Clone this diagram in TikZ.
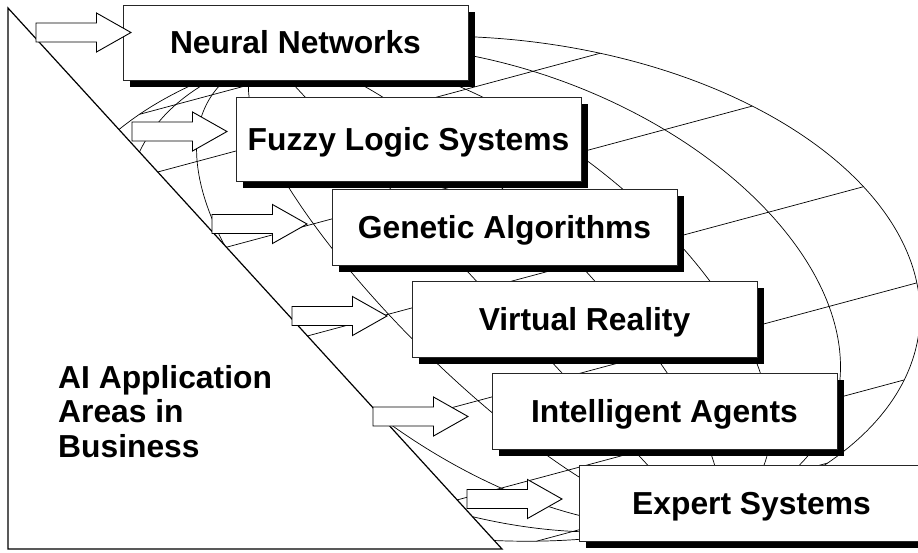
\documentclass[tikz,border=0pt]{standalone}
\usepackage{fontspec}
\setmainfont{Liberation Sans}
\usetikzlibrary{shadows}
\begin{document}
\begin{tikzpicture}[x=1pt,y=-1pt,
  globe/.style={line width=0.7pt, black},
  card/.style={draw=black!85, line width=1pt, fill=white, minimum width=345pt,
    minimum height=76pt, inner sep=0pt, text height=22.8pt, text depth=0pt,
    font=\fontsize{31.8}{36}\selectfont\bfseries,
    drop shadow={shadow xshift=6.5pt, shadow yshift=-7pt, fill=black, opacity=1}},
  lbl/.style={anchor=base west, inner sep=0pt, font=\fontsize{31.8}{36}\selectfont\bfseries},
  barrowline/.style={draw=black, line width=0.9pt, fill=white, line join=miter},
  barrow/.pic={\path[barrowline] (0,-9.5) -- (60.5,-9.5) -- (60.5,-19.5) -- (95,0)
     -- (60.5,19.5) -- (60.5,9.5) -- (0,9.5) -- cycle;}
]
\useasboundingbox (0,0) rectangle (918,552);
\clip (0,0) rectangle (918,552);
\fill[white] (0,0) rectangle (918,552);
% globe wireframe
\foreach \b in {-1,-0.75,-0.5,-0.25,0,0.25,0.5,0.75,1}
  \draw[globe] plot[domain=-90:90,samples=91,smooth]
    ({483.5+380*(\b)*cos(\x)-215*sin(\x)},{288.7-102*(\b)*cos(\x)-231*sin(\x)});
\foreach \l in {-67.5,-45,-22.5,0,22.5,45,67.5}
  \draw[globe] ({483.5-380*cos(\l)-215*sin(\l)},{288.7+102*cos(\l)-231*sin(\l)})
    -- ({483.5+380*cos(\l)-215*sin(\l)},{288.7-102*cos(\l)-231*sin(\l)});
% triangle
\draw[line width=1.2pt, fill=white] (8,8) -- (8,549) -- (502,549) -- cycle;
\node[lbl] (t1) at (58,388) {AI Application};
\node[lbl] (t2) at (58,422.5) {Areas in};
\node[lbl] (t3) at (58,457) {Business};
% boxes
\node[card, minimum height=75pt] (nn) at (295.5,42.5) {Neural Networks};
\node[card, minimum height=84pt] (fl) at (408.5,139) {Fuzzy Logic Systems};
\node[card] (ga) at (504.5,227) {Genetic Algorithms};
\node[card] (vr) at (584.5,319) {Virtual Reality};
\node[card] (ia) at (664.5,411) {Intelligent Agents};
\node[card] (es) at (751.5,503) {Expert Systems};
% block arrows
\pic (a1) at (36,32.5) {barrow};
\pic (a2) at (132,131.5) {barrow};
\pic (a3) at (212,224) {barrow};
\pic (a4) at (292,316) {barrow};
\pic (a5) at (373,416.5) {barrow};
\pic (a6) at (467,499) {barrow};
\end{tikzpicture}
\end{document}
